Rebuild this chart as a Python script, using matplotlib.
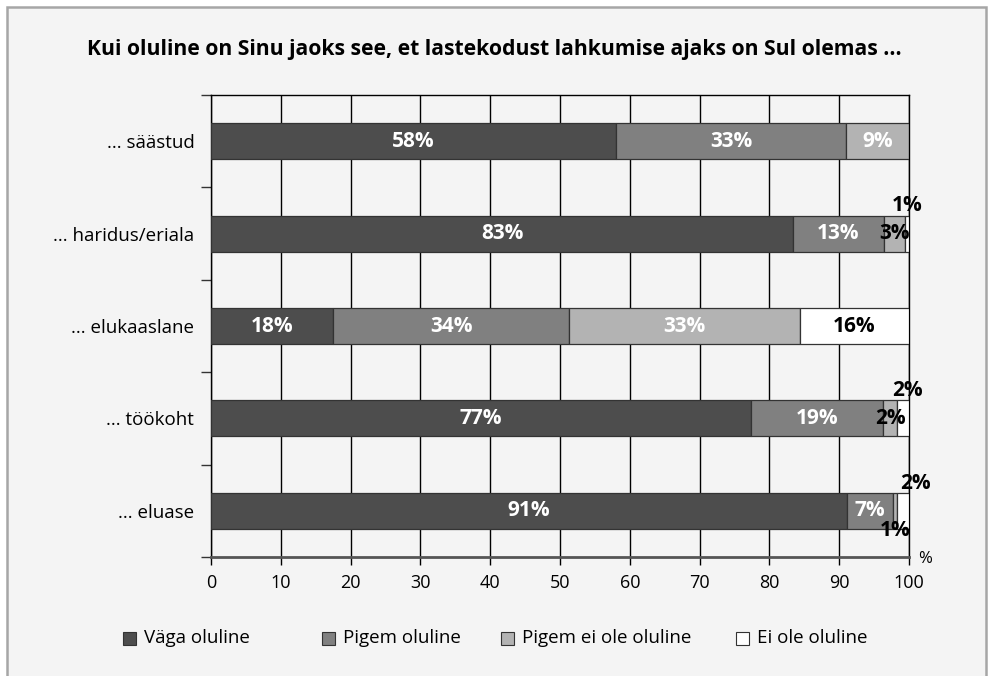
import numpy as np
import matplotlib.pyplot as plt
from matplotlib.patches import Rectangle

plt.rcParams['font.family'] = ['Open Sans', 'DejaVu Sans']

# Data
categories = ['... säästud', '... haridus/eriala', '... elukaaslane', '... töökoht', '... eluase']
series_names = ['Väga oluline', 'Pigem oluline', 'Pigem ei ole oluline', 'Ei ole oluline']
vaga = [58.0, 83.4, 17.5, 77.3, 91.1]
pigem = [33.0, 13.0, 33.8, 19.0, 6.6]
pigem_ei = [9.0, 3.0, 33.1, 2.0, 0.6]
ei_ole = [0.0, 0.6, 15.6, 1.7, 1.7]
x_ticks = [0, 10, 20, 30, 40, 50, 60, 70, 80, 90, 100]

colors = ['#4d4d4d', '#808080', '#b3b3b3', '#ffffff']
bg = '#f4f4f4'

fig = plt.figure(figsize=(9.88, 6.76), dpi=100, facecolor='white')

# outer frame
frame = Rectangle((7 / 988, -0.05), 979 / 988, 1 - 7 / 676 + 0.05,
                  transform=fig.transFigure, facecolor=bg,
                  edgecolor='#a6a6a6', linewidth=1.8, zorder=-10)
fig.patches.append(frame)

ax = fig.add_axes([211 / 988, 1 - 557 / 676, 698 / 988, 462 / 676])
ax.set_facecolor(bg)

y = np.arange(len(categories))
series = [vaga, pigem, pigem_ei, ei_ole]
left = np.zeros(len(categories))
bar_h = 0.39

# offsets (points) for the small labels that do not fit inside the bar
small_offsets = {
    (1, 3): (0, 20),
    (3, 3): (3, 20),
    (4, 3): (9, 20),
    (4, 2): (0, -14),
}

for si, vals in enumerate(series):
    vals = np.array(vals)
    ax.barh(y, vals, left=left, height=bar_h, color=colors[si],
            edgecolor='#333333', linewidth=0.9, zorder=3)
    for ci, v in enumerate(vals):
        if v <= 0:
            continue
        cx = left[ci] + v / 2
        txt = f'{round(v):.0f}%'
        if v >= 5:
            col = 'black' if si == 3 else 'white'
            ax.text(cx, ci, txt, ha='center', va='center', color=col,
                    fontsize=15, fontweight='bold', zorder=5)
        else:
            dx, dy = small_offsets.get((ci, si), (0, 0))
            ax.annotate(txt, (cx, ci), xytext=(dx, dy), textcoords='offset points',
                        ha='center', va='center', color='black',
                        fontsize=15, fontweight='bold', zorder=5,
                        annotation_clip=False)
    left += vals

ax.set_xlim(0, 100)
ax.set_ylim(len(categories) - 0.5, -0.5)
ax.set_xticks(x_ticks)
ax.tick_params(axis='x', direction='out', length=6, width=1, labelsize=13,
               color='black', pad=6)
ax.set_yticks(y)
ax.set_yticklabels(categories, fontsize=13.5)
ax.tick_params(axis='y', which='major', length=0, pad=12)
ax.set_yticks(np.arange(-0.5, len(categories), 1.0), minor=True)
ax.tick_params(axis='y', which='minor', direction='out', length=7, width=1,
               color='#333333')
ax.grid(axis='x', color='black', linewidth=1, zorder=1)
ax.set_axisbelow(True)
for side in ['top', 'left', 'right']:
    ax.spines[side].set_color('black')
    ax.spines[side].set_linewidth(1)
ax.spines['bottom'].set_color('#555555')
ax.spines['bottom'].set_linewidth(2)

ax.text(1.013, -0.005, '%', transform=ax.transAxes, ha='left', va='center',
        fontsize=12)

fig.text(0.5, 1 - 50 / 676,
         'Kui oluline on Sinu jaoks see, et lastekodust lahkumise ajaks on Sul olemas ...',
         ha='center', va='center', fontsize=15.2, fontweight='bold')

# legend drawn by hand to match uneven spacing
leg_x = [123, 322, 501, 736]
leg_y = 638
for i, name in enumerate(series_names):
    sq = Rectangle((leg_x[i] / 988, 1 - (leg_y + 6.5) / 676), 13 / 988, 13 / 676,
                   transform=fig.transFigure, facecolor=colors[i],
                   edgecolor='#333333', linewidth=0.8)
    fig.patches.append(sq)
    fig.text((leg_x[i] + 21) / 988, 1 - leg_y / 676, name, ha='left',
             va='center', fontsize=13.5)

fig.savefig('out.png', dpi=100, facecolor=fig.get_facecolor())
